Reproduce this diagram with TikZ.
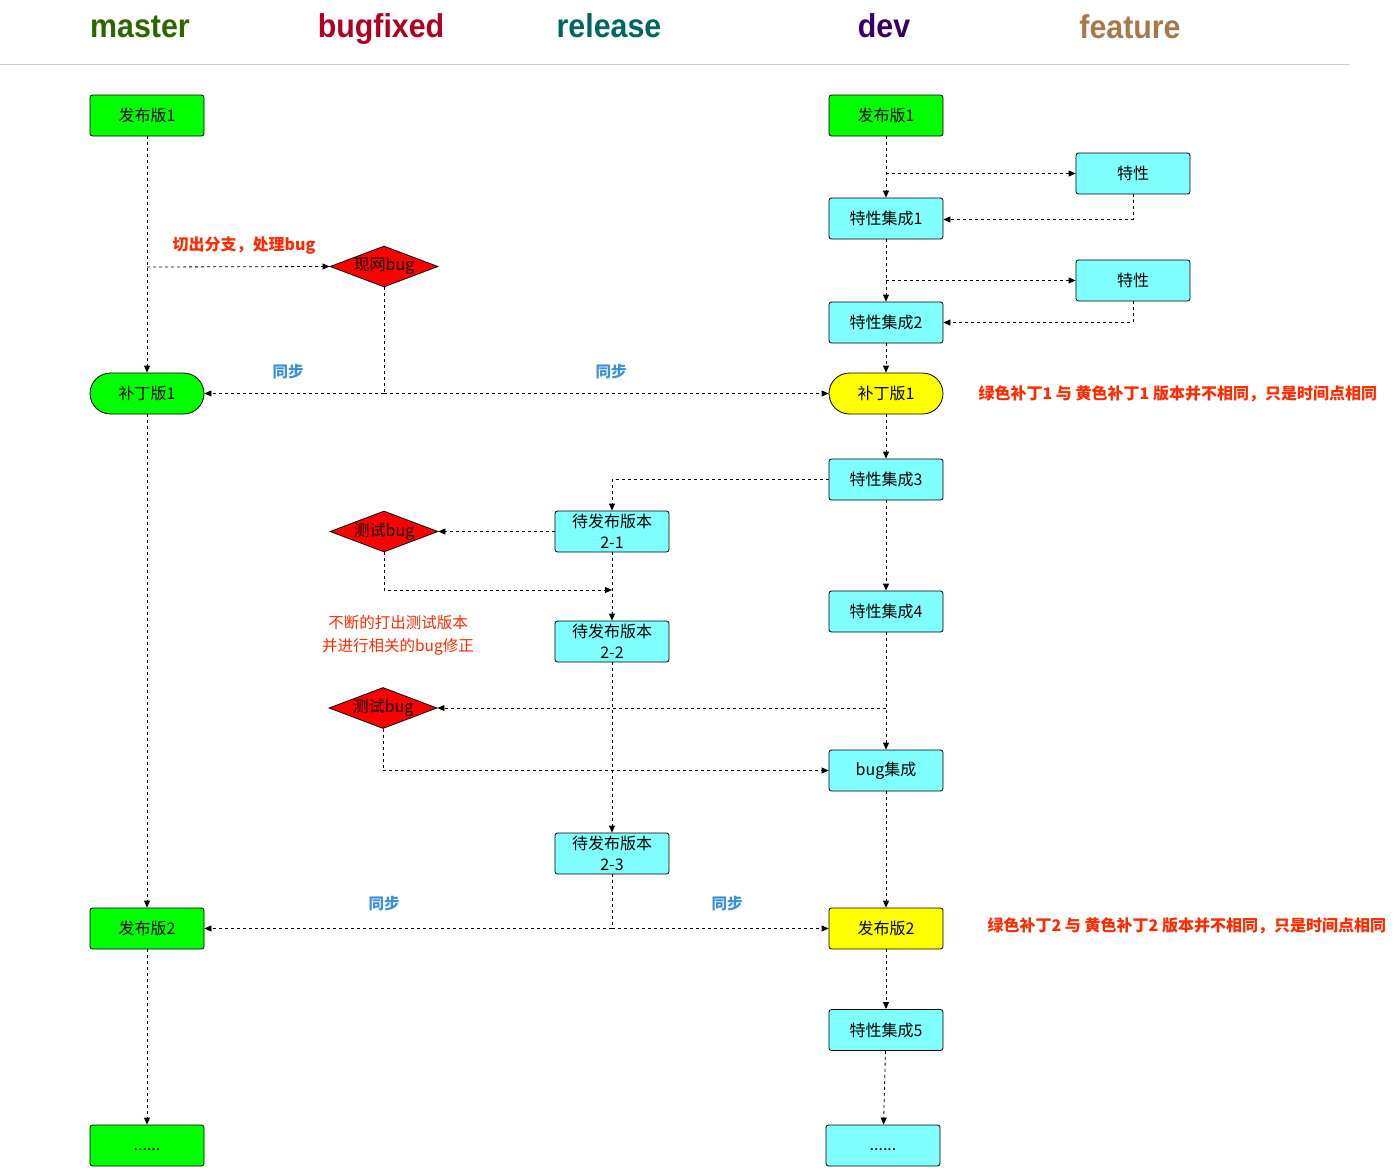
\documentclass[tikz,border=0pt]{standalone}
\usepackage{fontspec}
\setmainfont{Noto Sans CJK SC}
\newfontfamily\hdrfont{Liberation Sans}
\usetikzlibrary{shapes.geometric,arrows.meta,calc}
\definecolor{cgreen}{HTML}{00FF00}
\definecolor{ccyan}{HTML}{80FFFF}
\definecolor{cyellow}{HTML}{FFFF00}
\definecolor{cred}{HTML}{FF0000}
\definecolor{hmaster}{HTML}{2D6600}
\definecolor{hbug}{HTML}{B00020}
\definecolor{hrel}{HTML}{006660}
\definecolor{hdev}{HTML}{330066}
\definecolor{hfeat}{HTML}{A8784A}
\definecolor{notered}{HTML}{FF2A00}
\definecolor{syncblue}{HTML}{3A8FD9}
\begin{document}
\begin{tikzpicture}[x=1pt,y=-1pt,
  box/.style={draw=black, line width=0.8pt, rounded corners=2.5pt, minimum width=114pt, minimum height=41pt, inner sep=0pt, font=\fontsize{16}{21}\selectfont, align=center},
  gbox/.style={box, fill=cgreen},
  cbox/.style={box, fill=ccyan},
  ybox/.style={box, fill=cyellow},
  dia/.style={diamond, draw=black, line width=0.8pt, fill=cred, aspect=2.6, inner sep=0pt, minimum width=108pt, minimum height=41pt, font=\fontsize{16}{19}\selectfont},
  con/.style={draw=black, line width=0.8pt, dash pattern=on 3pt off 3pt},
  arr/.style={con, -{Triangle[width=6pt,length=7pt]}},
  hdr/.style={anchor=base, xscale=0.92, font=\hdrfont\bfseries\fontsize{33}{38}\selectfont},
  note/.style={text=notered, font=\bfseries\fontsize{16}{19}\selectfont},
  note2/.style={text=notered, font=\fontsize{15.5}{23}\selectfont, align=center},
  sync/.style={text=syncblue, font=\bfseries\fontsize{15.5}{19}\selectfont}
]
\useasboundingbox (0,0) rectangle (1394,1167);
% headers
\node[hdr, text=hmaster] (hm) at (140,37) {master};
\node[hdr, text=hbug] (hb) at (381,37) {bugfixed};
\node[hdr, text=hrel] (hr) at (609,37) {release};
\node[hdr, text=hdev] (hd) at (884,37) {dev};
\node[hdr, text=hfeat] (hf) at (1130,38) {feature};
\draw[line width=1pt, draw=black!20] (0,64) -- (1350,64);

% master column
\node[gbox] (m1) at (147,115.5) {发布版1};
\node[gbox, rounded corners=20.5pt] (mp1) at (147,393.5) {补丁版1};
\node[gbox] (m2) at (147,928.5) {发布版2};
\node[gbox] (mdots) at (147,1145.5) {\smash{\raisebox{-5pt}{......}}};

% bugfixed column
\node[dia] (bug0) at (384,266.5) {现网bug};
\node[dia] (tb1) at (384,531.5) {测试bug};
\node[dia] (tb2) at (383,708) {测试bug};

% release column
\node[cbox] (r21) at (612,531.5) {待发布版本\\2-1};
\node[cbox] (r22) at (612,641.5) {待发布版本\\2-2};
\node[cbox] (r23) at (612,853.5) {待发布版本\\2-3};

% dev column
\node[gbox] (d1) at (886,115.5) {发布版1};
\node[cbox] (fi1) at (886,218.5) {特性集成1};
\node[cbox] (fi2) at (886,322.5) {特性集成2};
\node[ybox, rounded corners=20.5pt] (dp1) at (886,393.5) {补丁版1};
\node[cbox] (fi3) at (886,479.5) {特性集成3};
\node[cbox] (fi4) at (886,611.5) {特性集成4};
\node[cbox] (bi) at (886,770.5) {bug集成};
\node[ybox] (dp2) at (886,928.5) {发布版2};
\node[cbox] (fi5) at (886,1030) {特性集成5};
\node[cbox] (ddots) at (883,1145.5) {\smash{\raisebox{-5pt}{......}}};

% feature column
\node[cbox] (ft1) at (1133,173.5) {特性};
\node[cbox] (ft2) at (1133,280.5) {特性};

% annotations
\node[note] (n1) at (244,246) {切出分支，处理bug};
\node[sync] (s1) at (288,372) {同步};
\node[sync] (s2) at (611,372) {同步};
\node[sync] (s3) at (384,904) {同步};
\node[sync] (s4) at (727,904) {同步};
\node[note, anchor=west] (n2) at (975,394) {绿色补丁1 与 黄色补丁1 版本并不相同，只是时间点相同};
\node[note, anchor=west] (n3) at (984,926) {绿色补丁2 与 黄色补丁2 版本并不相同，只是时间点相同};
\node[note2] (n4) at (398,635) {不断的打出测试版本\\并进行相关的bug修正};

% master connectors
\draw[arr] (m1) -- (mp1);
\coordinate (b1) at (147,267);
\draw[arr] (b1) -- (bug0.west);
\coordinate (j1) at (bug0.south |- mp1);
\draw[con] (bug0.south) -- (j1);
\draw[arr] (j1) -- (mp1.east);
\draw[arr] (j1) -- (dp1.west);
\draw[arr] (mp1) -- (m2);
\draw[arr] (m2) -- (mdots);

% dev / feature connectors
\draw[arr] (d1) -- (fi1);
\coordinate (b2) at (886,173.5);
\draw[arr] (b2) -- (ft1.west);
\draw[arr] (ft1.south) |- ($(fi1.east)+(0,1)$);
\draw[arr] (fi1) -- (fi2);
\coordinate (b3) at (886,280.5);
\draw[arr] (b3) -- (ft2.west);
\draw[arr] (ft2.south) |- (fi2.east);
\draw[arr] (fi2) -- (dp1);
\draw[arr] (dp1) -- (fi3);
\draw[arr] (fi3) -- (fi4);
\draw[arr] (fi4) -- (bi);
\coordinate (b4) at (fi4.south |- tb2);
\draw[arr] (b4) -- (tb2.east);
\draw[arr] (tb2.south) |- (bi.west);
\draw[arr] (bi) -- (dp2);
\draw[arr] (dp2) -- (fi5);
\draw[arr] (fi5) -- (ddots);

% release connectors
\draw[arr] (fi3.west) -| (r21.north);
\draw[arr] (r21.west) -- (tb1.east);
\coordinate (c590) at (612,590);
\draw[arr] (tb1.south) |- (c590);
\draw[arr] (r21) -- (r22);
\draw[arr] (r22) -- (r23);
\coordinate (j2) at (r23.south |- m2);
\draw[con] (r23.south) -- (j2);
\draw[arr] (j2) -- (m2.east);
\draw[arr] (j2) -- (dp2.west);
\end{tikzpicture}
\end{document}
